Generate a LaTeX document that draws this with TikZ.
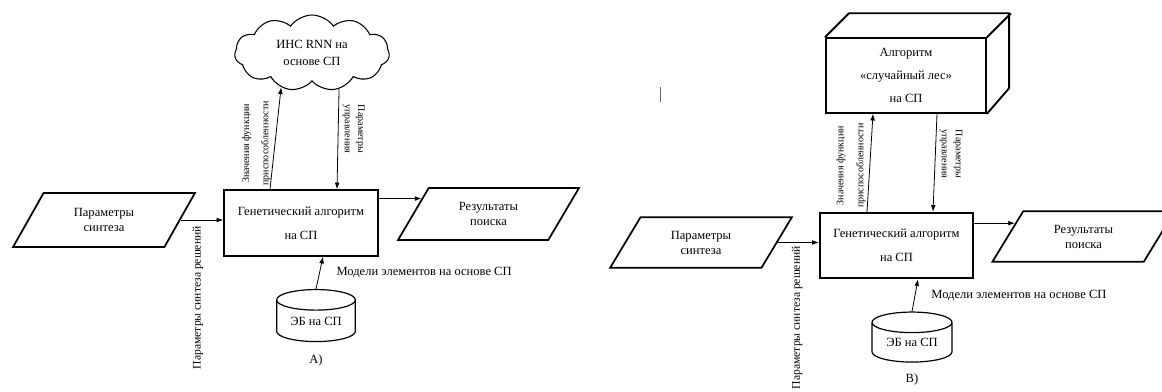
\documentclass[tikz,border=0pt]{standalone}
\usepackage{fontspec}
\setmainfont{Liberation Serif}
\usetikzlibrary{arrows.meta,shapes.geometric,shapes.symbols,positioning,calc}

\newcommand{\mainfnt}{\fontsize{9.4}{11.3}\selectfont}
\newcommand{\lblfnt}{\fontsize{7.5}{9}\selectfont}

\begin{document}
\begin{tikzpicture}[x=0.75pt, y=-0.75pt, >={Latex[length=5pt,width=3.6pt]},
                    every node/.style={align=center, font=\mainfnt, inner sep=0pt},
                    gabox/.style={draw, rectangle, line width=1.6pt, minimum width=115pt, minimum height=49pt},
                    iobox/.style={draw, trapezium, trapezium left angle=57, trapezium right angle=123,
                                  trapezium stretches=true, line width=1.3pt, minimum width=136.5pt, minimum height=39pt},
                    dbnode/.style={draw, cylinder, shape border rotate=90, aspect=0.4, line width=0.9pt,
                                   minimum width=59pt, minimum height=39pt},
                    flow/.style={->, line width=0.6pt},
                    lbl/.style={font=\lblfnt, inner sep=3pt},
                    sollbl/.style={rotate=90, anchor=east, font=\fontsize{8.7}{10.5}\selectfont}]
  \useasboundingbox (0,0) rectangle (1162,392);

  % Left diagram: A)
  \node[draw, cloud, cloud puffs=11, cloud puff arc=110, aspect=2, line width=0.8pt,
        minimum width=116pt, minimum height=57pt] (ann1) at (312,53) {ИНС RNN на\\[1.5pt]основе СП};
  \node[gabox] (ga1) at (301,223) {Генетический алгоритм\\[6.5pt]на СП};
  \node[iobox, minimum height=40.5pt] (par1) at (104,220) {Параметры\\синтеза};
  \node[iobox] (res1) at (488.5,214) {Результаты\\поиска};
  \node[dbnode] (db1) at (316,321) {\raisebox{-3pt}{ЭБ на СП}};
  \node[below=9pt of db1] (capA) {А)};
  \node[sollbl] (solpar1) at (198,226) {Параметры синтеза решений};

  \draw[flow] (par1.east) -- (par1.east -| ga1.west);
  \draw[flow] (ga1.east |- res1.167) -- (res1.167);
  \draw[flow] ($(ga1.north)+(-31,0)$) -- (ann1.228)
    node[pos=0.45, lbl, rotate=90, anchor=south] {Значения функции\\[5.5pt]приспособленности};
  \draw[flow] (ann1.307) -- ($(ga1.north)+(36,0)$)
    node[pos=0.4, lbl, rotate=-90, anchor=south] {Параметры\\[1pt]управления};
  \draw[flow] (db1.north) -- ($(ga1.south)+(22,0)$)
    node[midway, right=12.5pt] {Модели элементов на основе СП};

  % Right diagram: B)
  \node[draw, rectangle, line width=1.4pt, minimum width=120pt, minimum height=56pt] (ann2) at (906,75.5)
    {Алгоритм\\[6pt]«случайный лес»\\[6pt]на СП};
  \draw[line width=1.4pt, line join=round] (ann2.north west) -- ++(24,-24) -- ++(160,0) -- ++(0,75) -- (ann2.south east);
  \draw[line width=1.4pt] (ann2.north east) -- ++(24,-24);
  \node[gabox] (ga2) at (896.5,245.5) {Генетический алгоритм\\[6.5pt]на СП};
  \node[iobox, minimum height=38pt] (par2) at (701,242.5) {Параметры\\синтеза};
  \node[iobox, minimum height=38pt, minimum width=137.5pt] (res2) at (1083.5,236.5) {Результаты\\поиска};
  \node[dbnode, minimum width=60pt, minimum height=37.5pt] (db2) at (912,342.5) {\raisebox{-3pt}{ЭБ на СП}};
  \node[below=8pt of db2] (capB) {В)};
  \node[sollbl] (solpar2) at (797,246) {Параметры синтеза решений};

  \draw[flow] (par2.east) -- (par2.east -| ga2.west);
  \draw[flow] (ga2.east |- res2.169) -- (res2.169);
  \draw[flow] ($(ga2.north)+(-29.5,0)$) -- ($(ann2.south)+(-33,0)$)
    node[pos=0.47, lbl, rotate=90, anchor=south] {Значения функции\\[6pt]приспособленности};
  \draw[flow] ($(ann2.south)+(31,0)$) -- ($(ga2.north)+(36.5,0)$)
    node[pos=0.41, lbl, rotate=-90, anchor=south] {Параметры\\[1.5pt]управления};
  \draw[flow] (db2.north) -- ($(ga2.south)+(21.5,0)$)
    node[midway, right=12pt] {Модели элементов на основе СП};

  % stray cursor mark
  \draw[line width=0.5pt, black!60] (660,87) -- (660,102);
\end{tikzpicture}
\end{document}
